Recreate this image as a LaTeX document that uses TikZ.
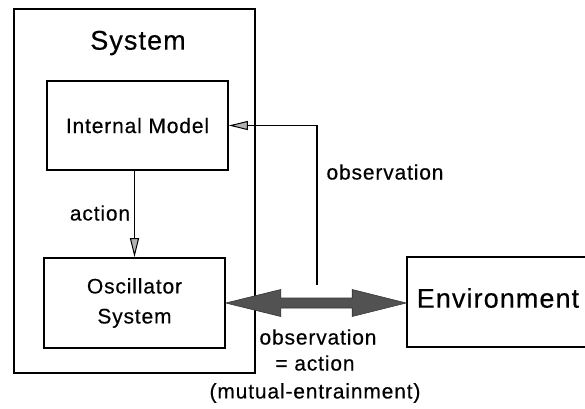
\documentclass[tikz,border=0pt]{standalone}
\usepackage{fontspec}
\setmainfont[LetterSpace=4,FakeBold=0.4]{Liberation Sans}
\usetikzlibrary{arrows.meta,calc}
\begin{document}
\begin{tikzpicture}[x=1pt,y=-1pt,line width=1.6pt,
  box/.style={draw,rectangle,inner sep=0pt},
  lbl/.style={font=\fontsize{21}{30}\selectfont,inner sep=0pt,align=center},
  big/.style={font=\fontsize{27}{32}\selectfont,inner sep=0pt},
  arr/.style={line width=1.4pt,-{Triangle[length=19pt,width=9pt,fill=gray!60,line width=1pt]}}]
\useasboundingbox (0,0) rectangle (585,408);
\clip (0,0) rectangle (585,408);
\node[box,minimum width=241pt,minimum height=364pt] (sys) at (134.5,191) {};
\node[big] (systitle) at (138,43) {System};
\node[box,lbl,minimum width=181pt,minimum height=89pt] (im) at (137.5,125.5) {Internal Model};
\node[box,lbl,minimum width=181pt,minimum height=90pt] (osc) at (134.5,303) {Oscillator\\System};
\node[box,minimum width=182pt,minimum height=90pt] (env) at (498,302) {};
\node[big] (envtext) at (498,298) {Environment};
\draw[arr] (osc.north |- im.south) -- (osc.north);
\node[lbl] (actlbl) at (100,213) {action};
\coordinate (obsfoot) at (317,285);
\draw[arr] (obsfoot) |- (im.east);
\node[lbl] (obslbl) at (385,172) {observation};
\coordinate (a) at (osc.east);
\coordinate (b) at (env.west |- osc.east);
\filldraw[fill=black!68,draw=black!80,line width=0.6pt]
  (a) -- ($(a)+(55,-13.5)$) -- ($(a)+(55,-5)$) -- ($(b)+(-54,-5)$) -- ($(b)+(-54,-13.5)$)
  -- (b) -- ($(b)+(-54,13.5)$) -- ($(b)+(-54,5)$) -- ($(a)+(55,5)$) -- ($(a)+(55,13.5)$) -- cycle;
\node[lbl] (eq1) at (318,337) {observation};
\node[lbl] (eq2) at (315,363) {= action};
\node[lbl] (eq3) at (315,393) {(mutual-entrainment)};
\end{tikzpicture}
\end{document}
